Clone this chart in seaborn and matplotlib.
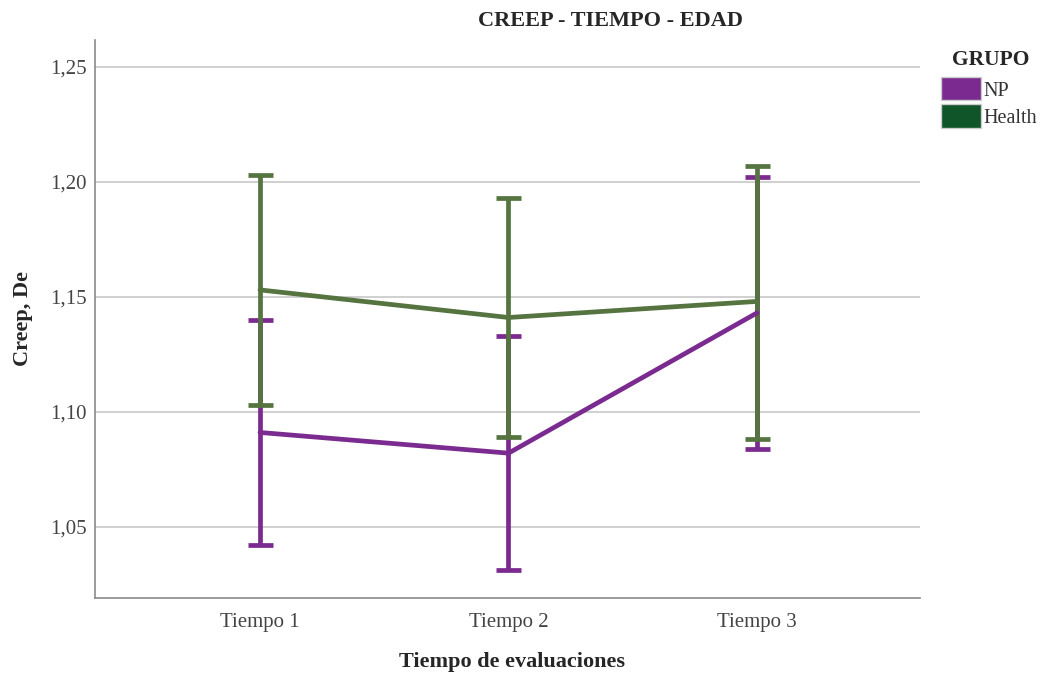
import matplotlib
matplotlib.use("Agg")
import matplotlib.pyplot as plt
import matplotlib.patches as mpatches
import seaborn as sns
import pandas as pd
import numpy as np

tiempos = ["Tiempo 1", "Tiempo 2", "Tiempo 3"]
grupos = ["NP", "Health"]
np_mean = [1.091, 1.082, 1.143]
np_low = [1.042, 1.031, 1.084]
np_high = [1.140, 1.133, 1.202]
health_mean = [1.153, 1.141, 1.148]
health_low = [1.103, 1.089, 1.088]
health_high = [1.203, 1.193, 1.207]
yticks = [1.05, 1.10, 1.15, 1.20, 1.25]

line_colors = {"NP": "#7b2b8f", "Health": "#55743f"}
legend_colors = {"NP": "#7b2b8f", "Health": "#10552a"}

sns.set_style("white")
plt.rcParams["font.family"] = ["Liberation Serif", "DejaVu Serif"]

rows = []
for g, m, lo, hi in [("NP", np_mean, np_low, np_high), ("Health", health_mean, health_low, health_high)]:
    for i, t in enumerate(tiempos):
        rows.append({"Tiempo": t, "pos": i, "GRUPO": g, "mean": m[i], "low": lo[i], "high": hi[i]})
df = pd.DataFrame(rows)

fig = plt.figure(figsize=(10.45, 6.75), dpi=100)
ax = fig.add_axes([95/1045, 1-598/675, (920-95)/1045, (598-40)/675])

for g in ["NP", "Health"]:
    sub = df[df["GRUPO"] == g]
    ax.errorbar(sub["pos"], sub["mean"],
                yerr=[sub["mean"] - sub["low"], sub["high"] - sub["mean"]],
                fmt="none", ecolor=line_colors[g], elinewidth=3.4, capsize=9, capthick=3.4, zorder=3)
sns.lineplot(data=df, x="pos", y="mean", hue="GRUPO", palette=line_colors,
             linewidth=3.4, ax=ax, legend=False, zorder=4, sort=False)

ax.set_xlim(-0.664, 2.656)
ax.set_ylim(1.019, 1.2617)
ax.set_xticks(range(len(tiempos)))
ax.set_xticklabels(tiempos)
ax.set_yticks(yticks)
ax.set_yticklabels([f"{v:.2f}".replace(".", ",") for v in yticks])
ax.yaxis.grid(True, color="#c8c8c8", linewidth=1.2)
ax.set_axisbelow(True)
for s in ["top", "right"]:
    ax.spines[s].set_visible(False)
for s in ["left", "bottom"]:
    ax.spines[s].set_color("#8a8a8a")
    ax.spines[s].set_linewidth(1.2)
ax.tick_params(axis="both", length=0, labelsize=15, colors="#444444")
ax.tick_params(axis="y", pad=6)
ax.tick_params(axis="x", pad=11)
ax.set_xlabel("Tiempo de evaluaciones", fontsize=16, fontweight="bold", va="center")
ax.xaxis.set_label_coords((512-95)/825, (598-662)/558)
ax.set_ylabel("Creep, De", fontsize=16, fontweight="bold", va="center")
ax.yaxis.set_label_coords((23-95)/825, (598-318)/558)
fig.text(610/1045, 1-21/675, "CREEP - TIEMPO - EDAD", fontsize=16, fontweight="bold",
         ha="center", va="center")

fig.text(991/1045, 1-60/675, "GRUPO", fontsize=15.5, fontweight="bold", ha="center", va="center")
handles = [mpatches.Patch(facecolor=legend_colors[g], edgecolor="#cccccc", label=g) for g in grupos]
leg = fig.legend(handles=handles, loc="upper left", bbox_to_anchor=(941/1045, 1-79/675),
                 frameon=False, fontsize=14.5, handlelength=2.0, handleheight=1.1,
                 handletextpad=0.1, labelspacing=0.3, borderpad=0, borderaxespad=0)
for p in leg.get_patches():
    h0 = p.get_height()
    p.set_height(h0 * 1.22)
    p.set_y(p.get_y() - h0 * 0.11)
for t in leg.get_texts():
    t.set_color("#333333")

fig.savefig("out.png", dpi=100)
